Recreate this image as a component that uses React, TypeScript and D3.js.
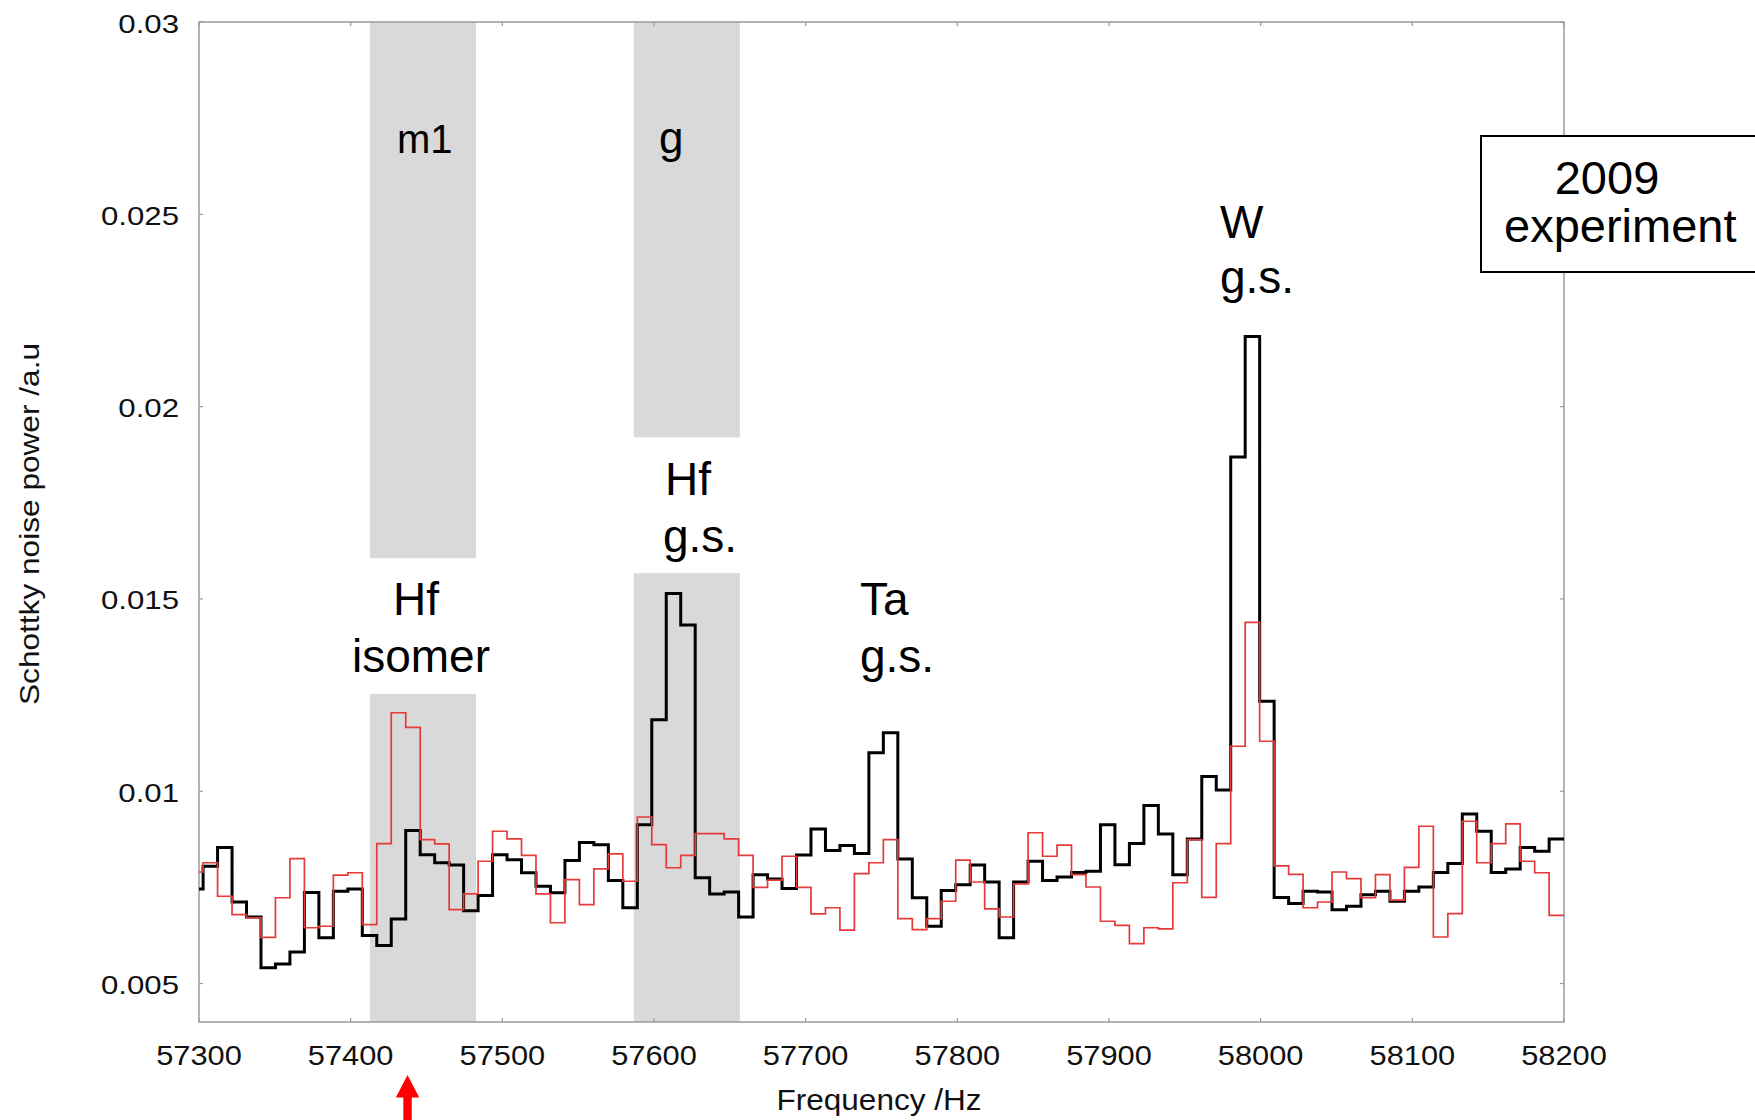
import React from "react";
import * as d3 from "d3";

// Schottky noise power spectra, 2009 experiment (two runs, 9.543 Hz bins)
const FREQ_MIN = 57300;
const FREQ_MAX = 58200;
const FIRST_EDGE = 57302.7; // first full bin edge; bin 0 is the partial bin before it
const BIN_WIDTH = 9.543;

const blackSeries = [
  0.00746, 0.00805, 0.00854, 0.00712, 0.00673, 0.00541, 0.00551, 0.00582, 0.00737, 0.00619,
  0.0074, 0.00746, 0.00625, 0.00599, 0.00668, 0.00898, 0.00835, 0.00814, 0.00808, 0.00689,
  0.00729, 0.00835, 0.00822, 0.00788, 0.00753, 0.00736, 0.0082, 0.00867, 0.00861, 0.00768,
  0.00697, 0.00913, 0.01186, 0.01514, 0.01432, 0.00775, 0.00733, 0.00738, 0.00673, 0.00783,
  0.00772, 0.00747, 0.00834, 0.00902, 0.00846, 0.00859, 0.00838, 0.011, 0.01152, 0.00824,
  0.00723, 0.00649, 0.00742, 0.00757, 0.00808, 0.00764, 0.00619, 0.00764, 0.00818, 0.00768,
  0.00777, 0.00789, 0.00792, 0.00913, 0.00809, 0.00864, 0.00963, 0.00889, 0.00783, 0.00876,
  0.01038, 0.01003, 0.01869, 0.02182, 0.01234, 0.00724, 0.00708, 0.0074, 0.00738, 0.00692,
  0.00701, 0.00731, 0.0074, 0.00714, 0.0074, 0.00751, 0.00789, 0.00812, 0.00941, 0.00896,
  0.00789, 0.00798, 0.00854, 0.00844, 0.00876,
];

const redSeries = [
  0.0079, 0.00814, 0.00727, 0.00679, 0.00671, 0.0062, 0.00723, 0.00825, 0.00645, 0.00649,
  0.00782, 0.00788, 0.00653, 0.00864, 0.01204, 0.01166, 0.00874, 0.00863, 0.00692, 0.00733,
  0.00818, 0.00896, 0.00876, 0.00833, 0.00733, 0.00658, 0.0077, 0.00705, 0.00798, 0.00837,
  0.00766, 0.00933, 0.00861, 0.00801, 0.00833, 0.0089, 0.0089, 0.00876, 0.00833, 0.0075,
  0.00769, 0.00831, 0.0075, 0.00681, 0.00697, 0.00639, 0.00786, 0.00814, 0.00874, 0.00669,
  0.0064, 0.00669, 0.00714, 0.00821, 0.00764, 0.00694, 0.00673, 0.00759, 0.00892, 0.00831,
  0.0086, 0.00783, 0.00751, 0.00662, 0.00651, 0.00604, 0.00645, 0.00642, 0.00762, 0.00874,
  0.00724, 0.00864, 0.01117, 0.01439, 0.0113, 0.00806, 0.00784, 0.00697, 0.00712, 0.0079,
  0.00773, 0.00723, 0.00783, 0.00717, 0.00802, 0.00909, 0.00621, 0.00682, 0.00922, 0.00814,
  0.00864, 0.00915, 0.00818, 0.00788, 0.00677,
];

const xTicks = [57300, 57400, 57500, 57600, 57700, 57800, 57900, 58000, 58100, 58200];
const yTicks = [0.005, 0.01, 0.015, 0.02, 0.025, 0.03];
const yTickLabels = ["0.005", "0.01", "0.015", "0.02", "0.025", "0.03"];

// Shaded search windows: frequency span and the value gap left open for the labels
const bandNames = ["m1", "g"];
const bandFrom = [57412.7, 57586.7];
const bandTo = [57482.7, 57656.6];
const bandGapLow = [0.01253, 0.01567];
const bandGapHigh = [0.01606, 0.0192];

const markerFreq = 57437.5;

const W = 1755;
const H = 1120;
const plot = { left: 199, right: 1564, top: 22, bottom: 1022 };

const x = d3.scaleLinear().domain([FREQ_MIN, FREQ_MAX]).range([plot.left, plot.right]);
const y = d3.scaleLinear().domain([0.004, 0.03]).range([plot.bottom, plot.top]);

function stepPoints(values: number[]): [number, number][] {
  const pts: [number, number][] = values.map((v, i) => [
    i === 0 ? FREQ_MIN : FIRST_EDGE + (i - 1) * BIN_WIDTH,
    v,
  ]);
  pts.push([FREQ_MAX, values[values.length - 1]]);
  return pts;
}

const stepLine = d3
  .line<[number, number]>()
  .x((d) => x(d[0]))
  .y((d) => y(d[1]))
  .curve(d3.curveStepAfter);

const FONT = "'Liberation Sans', Arial, Helvetica, sans-serif";
const FRAME = "#9a9a9a";
const BAND = "#d9d9d9";
const RED = "#e53a3a";

export default function App() {
  const yTop = y.range()[1];
  const yBot = y.range()[0];
  const ax = x(markerFreq);
  return (
    <svg
      width={W}
      height={H}
      viewBox={`0 0 ${W} ${H}`}
      style={{ position: "absolute", left: 0, top: 0, background: "#fff" }}
      fontFamily={FONT}
    >
      <rect x={0} y={0} width={W} height={H} fill="#fff" />

      {/* shaded windows */}
      {bandNames.map((name, i) => (
        <g key={name}>
          <rect
            x={x(bandFrom[i])}
            y={yTop}
            width={x(bandTo[i]) - x(bandFrom[i])}
            height={y(bandGapHigh[i]) - yTop}
            fill={BAND}
          />
          <rect
            x={x(bandFrom[i])}
            y={y(bandGapLow[i])}
            width={x(bandTo[i]) - x(bandFrom[i])}
            height={yBot - y(bandGapLow[i])}
            fill={BAND}
          />
        </g>
      ))}

      {/* frame */}
      <rect
        x={plot.left}
        y={plot.top}
        width={plot.right - plot.left}
        height={plot.bottom - plot.top}
        fill="none"
        stroke={FRAME}
        strokeWidth={1.5}
      />
      {xTicks.map((t) => (
        <g key={`xt${t}`} stroke={FRAME} strokeWidth={1.2}>
          <line x1={x(t)} x2={x(t)} y1={plot.bottom} y2={plot.bottom - 4} />
          <line x1={x(t)} x2={x(t)} y1={plot.top} y2={plot.top + 4} />
        </g>
      ))}
      {yTicks.map((t) => (
        <g key={`yt${t}`} stroke={FRAME} strokeWidth={1.2}>
          <line x1={plot.left} x2={plot.left + 4} y1={y(t)} y2={y(t)} />
          <line x1={plot.right} x2={plot.right - 4} y1={y(t)} y2={y(t)} />
        </g>
      ))}

      {/* spectra */}
      <path
        d={stepLine(stepPoints(blackSeries)) || ""}
        fill="none"
        stroke="#000"
        strokeWidth={3}
        strokeLinejoin="miter"
      />
      <path
        d={stepLine(stepPoints(redSeries)) || ""}
        fill="none"
        stroke={RED}
        strokeWidth={1.7}
      />

      {/* tick labels */}
      {xTicks.map((t) => (
        <text
          key={`xl${t}`}
          transform={`translate(${x(t)},1065) scale(1.1,1)`}
          textAnchor="middle"
          fontSize={28}
          fill="#111"
        >
          {t}
        </text>
      ))}
      {yTicks.map((t, i) => (
        <text
          key={`yl${t}`}
          transform={`translate(179,${y(t) + 10.5}) scale(1.2,1)`}
          textAnchor="end"
          fontSize={26}
          fill="#111"
        >
          {yTickLabels[i]}
        </text>
      ))}

      {/* axis titles */}
      <text
        x={879}
        y={1110}
        textAnchor="middle"
        fontSize={30}
        textLength={205}
        lengthAdjust="spacingAndGlyphs"
        fill="#111"
      >
        Frequency /Hz
      </text>
      <text
        transform="translate(39,524) rotate(-90)"
        textAnchor="middle"
        fontSize={28}
        textLength={362}
        lengthAdjust="spacingAndGlyphs"
        fill="#111"
      >
        Schottky noise power /a.u
      </text>

      {/* peak labels */}
      <g fill="#000">
        <text x={397} y={153} fontSize={40}>m1</text>
        <text x={659} y={153} fontSize={44}>g</text>
      </g>
      <g fontSize={46} fill="#000">
        <text x={393} y={615}>Hf</text>
        <text x={352} y={672}>isomer</text>
        <text x={665} y={495}>Hf</text>
        <text x={663} y={552}>g.s.</text>
        <text x={860} y={615}>Ta</text>
        <text x={860} y={672}>g.s.</text>
        <text x={1220} y={238}>W</text>
        <text x={1220} y={293}>g.s.</text>
      </g>

      {/* run label box */}
      <rect x={1481} y={136} width={290} height={136} fill="#fff" stroke="#000" strokeWidth={2} />
      <g fontSize={47} fill="#000">
        <text x={1607} y={194} textAnchor="middle">2009</text>
        <text x={1504} y={242}>experiment</text>
      </g>

      {/* marker arrow below the axis */}
      <path
        d={`M${ax},1075 L${ax + 11.7},1097.5 L${ax + 4.2},1097.5 L${ax + 4.2},1120 L${ax - 4.2},1120 L${ax - 4.2},1097.5 L${ax - 11.7},1097.5 Z`}
        fill="#ff0000"
      />
    </svg>
  );
}
